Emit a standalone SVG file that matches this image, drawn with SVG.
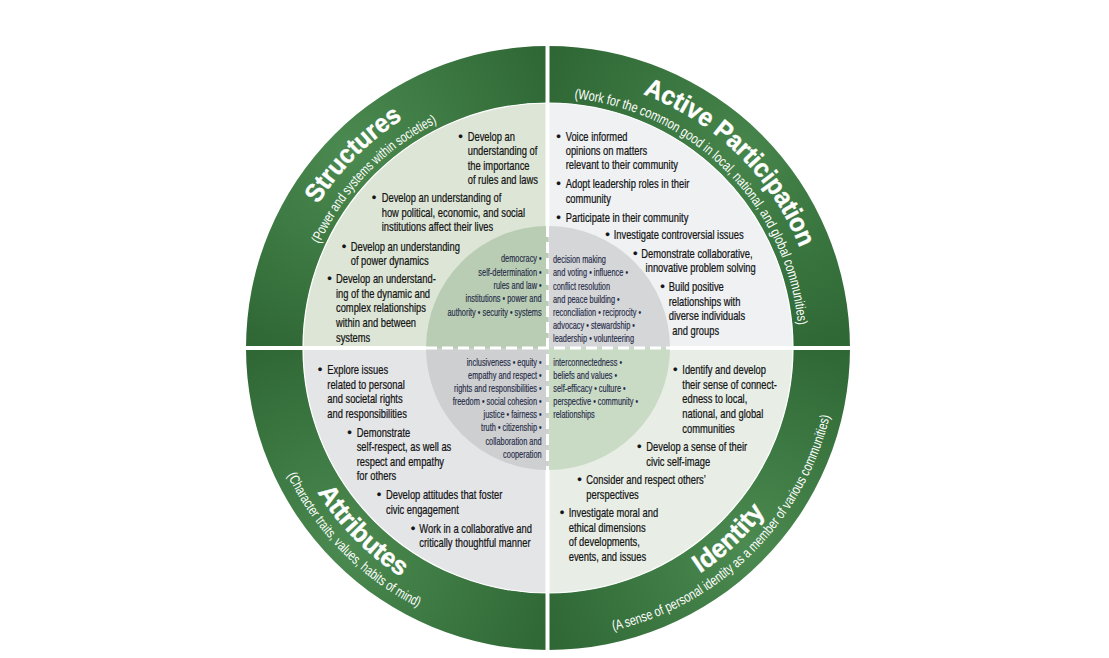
<svg xmlns="http://www.w3.org/2000/svg" width="1109" height="658" viewBox="0 0 1109 658">
<style>
.b{font-family:"Liberation Sans",Arial,sans-serif;font-size:13px;fill:#141414;stroke:#141414;stroke-width:0.25}
.i{font-family:"Liberation Sans",Arial,sans-serif;font-size:10px;fill:#1f2947;stroke:#1f2947;stroke-width:0.15}
.ie{font-family:"Liberation Sans",Arial,sans-serif;font-size:10px;fill:#1f2947;stroke:#1f2947;stroke-width:0.15;text-anchor:end}
.t{font-family:"Liberation Sans",Arial,sans-serif;font-size:26px;font-weight:bold;fill:#ffffff;stroke:#ffffff;stroke-width:0.4}
.s{font-family:"Liberation Sans",Arial,sans-serif;font-size:14px;fill:#ffffff}
.div{stroke:#ffffff;stroke-width:4;fill:none}
.dash{stroke:#ffffff;stroke-width:3;stroke-dasharray:11 5;fill:none}
</style>
<defs>
<radialGradient id="gTL" gradientUnits="userSpaceOnUse" cx="350" cy="150" r="230"><stop offset="0" stop-color="#4b8a50"/><stop offset="1" stop-color="#2d6533"/></radialGradient>
<radialGradient id="gTR" gradientUnits="userSpaceOnUse" cx="746" cy="150" r="230"><stop offset="0" stop-color="#46854b"/><stop offset="1" stop-color="#2d6533"/></radialGradient>
<radialGradient id="gBR" gradientUnits="userSpaceOnUse" cx="746" cy="546" r="230"><stop offset="0" stop-color="#4b8a50"/><stop offset="1" stop-color="#2d6533"/></radialGradient>
<radialGradient id="gBL" gradientUnits="userSpaceOnUse" cx="350" cy="546" r="230"><stop offset="0" stop-color="#4b8a50"/><stop offset="1" stop-color="#2d6533"/></radialGradient>
<path id="pStr" d="M318.2,204.4 A271,271 0 0 1 404.4,118.2"/>
<path id="pStrS" d="M319.6,243.9 A251,251 0 0 1 439.9,121.4"/>
<path id="pAP" d="M642.9,94.2 A271,271 0 0 1 800.1,248.7"/>
<path id="pAPS" d="M574.2,98.4 A251,251 0 0 1 798.2,328.3"/>
<path id="pAt" d="M317.3,492.1 A272,272 0 0 0 403.9,578.7"/>
<path id="pAtS" d="M287.3,475.1 A290,290 0 0 0 420.9,608.7"/>
<path id="pId" d="M700.1,573.5 A272,272 0 0 0 765.2,511.7"/>
<path id="pIdS" d="M613.2,630.6 A290,290 0 0 0 831.6,408.3"/>
</defs>
<rect x="0" y="0" width="1109" height="658" fill="#ffffff"/>

<g id="structures">
<path d="M246,348 A302,302 0 0 1 548,46 L548,103 A245,245 0 0 0 303,348 Z" fill="url(#gTL)"/>
<path d="M548,348 L303,348 A245,245 0 0 1 548,103 Z" fill="#dde6d6"/>
<text class="t"><textPath href="#pStr" textLength="121" lengthAdjust="spacingAndGlyphs">Structures</textPath></text>
<text class="s"><textPath href="#pStrS" textLength="172" lengthAdjust="spacingAndGlyphs">(Power and systems within societies)</textPath></text>
<text class="b" x="458.3" y="141">•</text>
<text class="b" transform="translate(467.7,141) scale(.72,1)"><tspan x="0">Develop an</tspan><tspan x="0" dy="14.3">understanding of</tspan><tspan x="0" dy="14.3">the importance</tspan><tspan x="0" dy="14.3">of rules and laws</tspan></text>
<text class="b" x="371.7" y="202.3">•</text>
<text class="b" transform="translate(381.7,202.3) scale(.72,1)"><tspan x="0">Develop an understanding of</tspan><tspan x="0" dy="14.4">how political, economic, and social</tspan><tspan x="0" dy="14.4">institutions affect their lives</tspan></text>
<text class="b" x="341.7" y="250.7">•</text>
<text class="b" transform="translate(350.7,250.7) scale(.72,1)"><tspan x="0">Develop an understanding</tspan><tspan x="0" dy="14.4">of power dynamics</tspan></text>
<text class="b" x="327.3" y="283.3">•</text>
<text class="b" transform="translate(336,283.3) scale(.72,1)"><tspan x="0">Develop an understand-</tspan><tspan x="0" dy="14.6">ing of the dynamic and</tspan><tspan x="0" dy="14.6">complex relationships</tspan><tspan x="0" dy="14.6">within and between</tspan><tspan x="0" dy="14.6">systems</tspan></text>
</g>

<g id="active-participation">
<path d="M548,46 A302,302 0 0 1 850,348 L793,348 A245,245 0 0 0 548,103 Z" fill="url(#gTR)"/>
<path d="M548,348 L548,103 A245,245 0 0 1 793,348 Z" fill="#eff1f3"/>
<text class="t"><textPath href="#pAP" textLength="226" lengthAdjust="spacingAndGlyphs">Active Participation</textPath></text>
<text class="s"><textPath href="#pAPS" textLength="345" lengthAdjust="spacingAndGlyphs">(Work for the common good in local, national, and global communities)</textPath></text>
<text class="b" x="556.3" y="141">•</text>
<text class="b" transform="translate(565.7,141) scale(.72,1)"><tspan x="0">Voice informed</tspan><tspan x="0" dy="14.2">opinions on matters</tspan><tspan x="0" dy="14.2">relevant to their community</tspan></text>
<text class="b" x="556.3" y="188.3">•</text>
<text class="b" transform="translate(565.7,188.3) scale(.72,1)"><tspan x="0">Adopt leadership roles in their</tspan><tspan x="0" dy="14.4">community</tspan></text>
<text class="b" x="556.3" y="221.7">•</text>
<text class="b" transform="translate(565.7,221.7) scale(.72,1)">Participate in their community</text>
<text class="b" x="605.3" y="239">•</text>
<text class="b" transform="translate(613.7,239) scale(.72,1)">Investigate controversial issues</text>
<text class="b" x="633" y="257.7">•</text>
<text class="b" transform="translate(641.3,257.7) scale(.72,1)"><tspan x="0">Demonstrate collaborative,</tspan><tspan x="6" dy="14.6">innovative problem solving</tspan></text>
<text class="b" x="660.3" y="291">•</text>
<text class="b" transform="translate(668.7,291) scale(.72,1)"><tspan x="0">Build positive</tspan><tspan x="0" dy="14.7">relationships with</tspan><tspan x="0" dy="14.3">diverse individuals</tspan><tspan x="5" dy="15">and groups</tspan></text>
</g>

<g id="attributes">
<path d="M548,650 A302,302 0 0 1 246,348 L303,348 A245,245 0 0 0 548,593 Z" fill="url(#gBL)"/>
<path d="M548,348 L548,593 A245,245 0 0 1 303,348 Z" fill="#e4e5e7"/>
<text class="t"><textPath href="#pAt" textLength="120" lengthAdjust="spacingAndGlyphs">Attributes</textPath></text>
<text class="s"><textPath href="#pAtS" textLength="189" lengthAdjust="spacingAndGlyphs">(Character traits, values, habits of mind)</textPath></text>
<text class="b" x="317.7" y="374.3">•</text>
<text class="b" transform="translate(327.3,374.3) scale(.72,1)"><tspan x="0">Explore issues</tspan><tspan x="0" dy="14.5">related to personal</tspan><tspan x="0" dy="14.5">and societal rights</tspan><tspan x="0" dy="14.5">and responsibilities</tspan></text>
<text class="b" x="347.3" y="436.7">•</text>
<text class="b" transform="translate(356.7,436.7) scale(.72,1)"><tspan x="0">Demonstrate</tspan><tspan x="0" dy="14.5">self-respect, as well as</tspan><tspan x="0" dy="14.5">respect and empathy</tspan><tspan x="0" dy="14.5">for others</tspan></text>
<text class="b" x="376.7" y="499.3">•</text>
<text class="b" transform="translate(386,499.3) scale(.72,1)"><tspan x="0">Develop attitudes that foster</tspan><tspan x="0" dy="14.7">civic engagement</tspan></text>
<text class="b" x="410.7" y="532.7">•</text>
<text class="b" transform="translate(419.3,532.7) scale(.72,1)"><tspan x="0">Work in a collaborative and</tspan><tspan x="0" dy="14.6">critically thoughtful manner</tspan></text>
</g>

<g id="identity">
<path d="M850,348 A302,302 0 0 1 548,650 L548,593 A245,245 0 0 0 793,348 Z" fill="url(#gBR)"/>
<path d="M548,348 L793,348 A245,245 0 0 1 548,593 Z" fill="#e8eee6"/>
<text class="t"><textPath href="#pId" textLength="90" lengthAdjust="spacingAndGlyphs">Identity</textPath></text>
<text class="s"><textPath href="#pIdS" textLength="321" lengthAdjust="spacingAndGlyphs">(A sense of personal identity as a member of various communities)</textPath></text>
<text class="b" x="673" y="374.3">•</text>
<text class="b" transform="translate(682.3,374.3) scale(.72,1)"><tspan x="0">Identify and develop</tspan><tspan x="0" dy="14.6">their sense of connect-</tspan><tspan x="0" dy="14.6">edness to local,</tspan><tspan x="0" dy="14.6">national, and global</tspan><tspan x="0" dy="14.6">communities</tspan></text>
<text class="b" x="637" y="451">•</text>
<text class="b" transform="translate(646.3,451) scale(.72,1)"><tspan x="0">Develop a sense of their</tspan><tspan x="0" dy="15">civic self-image</tspan></text>
<text class="b" x="577.3" y="484.3">•</text>
<text class="b" transform="translate(586.3,484.3) scale(.72,1)"><tspan x="0">Consider and respect others’</tspan><tspan x="0" dy="15">perspectives</tspan></text>
<text class="b" x="559.7" y="516.7">•</text>
<text class="b" transform="translate(568.7,516.7) scale(.72,1)"><tspan x="0">Investigate moral and</tspan><tspan x="0" dy="15.2">ethical dimensions</tspan><tspan x="0" dy="14.6">of developments,</tspan><tspan x="0" dy="15">events, and issues</tspan></text>
</g>

<g id="dividers">
<circle cx="548" cy="348" r="245" fill="none" stroke="#ffffff" stroke-width="1.2"/>
<line class="div" x1="547.5" y1="40" x2="547.5" y2="656"/>
<line class="div" x1="240" y1="348" x2="856" y2="348"/>
</g>

<g id="core">
<path d="M548,348 L426,348 A122,122 0 0 1 548,226 Z" fill="#b9cdb4"/>
<path d="M548,348 L548,226 A122,122 0 0 1 670,348 Z" fill="#d5d6d8"/>
<path d="M548,348 L670,348 A122,122 0 0 1 548,470 Z" fill="#c9dac5"/>
<path d="M548,348 L548,470 A122,122 0 0 1 426,348 Z" fill="#cdcfd0"/>
<line class="dash" x1="426" y1="348" x2="670" y2="348"/>
<line class="dash" x1="547.5" y1="226" x2="547.5" y2="470"/>
<text class="ie" transform="translate(541.7,262.3) scale(.74,1)"><tspan x="0">democracy •</tspan><tspan x="0" dy="13.35">self-determination •</tspan><tspan x="0" dy="13.35">rules and law •</tspan><tspan x="0" dy="13.35">institutions • power and</tspan><tspan x="0" dy="13.35">authority • security • systems</tspan></text>
<text class="i" transform="translate(553,263.3) scale(.74,1)"><tspan x="0">decision making</tspan><tspan x="0" dy="13.17">and voting • influence •</tspan><tspan x="0" dy="13.17">conflict resolution</tspan><tspan x="0" dy="13.17">and peace building •</tspan><tspan x="0" dy="13.17">reconciliation • reciprocity •</tspan><tspan x="0" dy="13.17">advocacy • stewardship •</tspan><tspan x="0" dy="13.17">leadership • volunteering</tspan></text>
<text class="ie" transform="translate(541.7,365.7) scale(.74,1)"><tspan x="0">inclusiveness • equity •</tspan><tspan x="0" dy="13.15">empathy and respect •</tspan><tspan x="0" dy="13.15">rights and responsibilities •</tspan><tspan x="0" dy="13.15">freedom • social cohesion •</tspan><tspan x="0" dy="13.15">justice • fairness •</tspan><tspan x="0" dy="13.15">truth • citizenship •</tspan><tspan x="0" dy="13.15">collaboration and</tspan><tspan x="0" dy="13.15">cooperation</tspan></text>
<text class="i" transform="translate(553.3,365.7) scale(.74,1)"><tspan x="0">interconnectedness •</tspan><tspan x="0" dy="13.15">beliefs and values •</tspan><tspan x="0" dy="13.15">self-efficacy • culture •</tspan><tspan x="0" dy="13.15">perspective • community •</tspan><tspan x="0" dy="13.15">relationships</tspan></text>
</g>
</svg>
